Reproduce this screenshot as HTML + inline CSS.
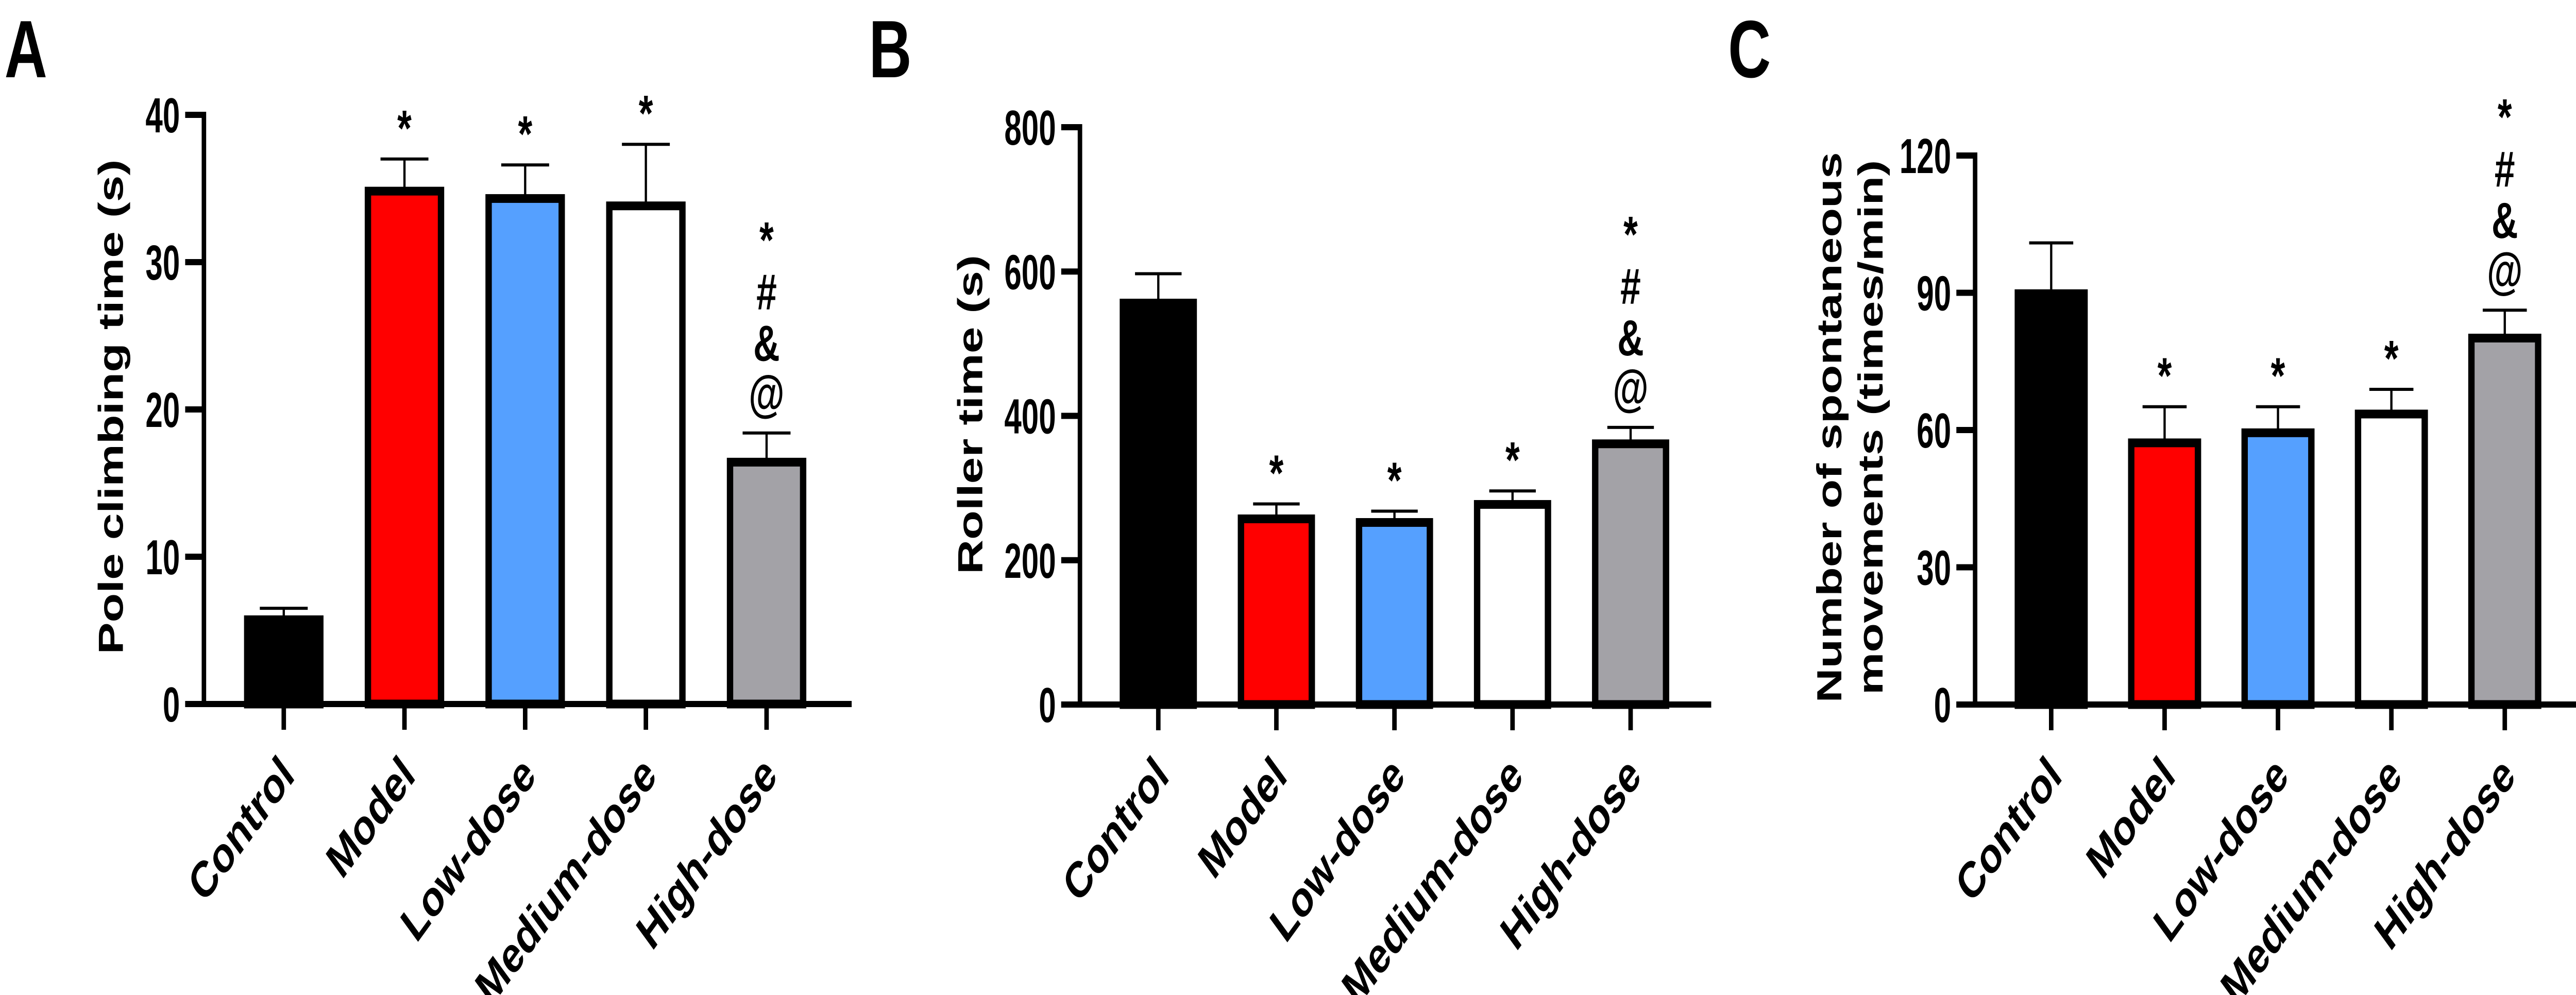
<!DOCTYPE html>
<html><head><meta charset="utf-8">
<style>
html,body{margin:0;padding:0;background:#fff;overflow:hidden;width:100%;height:100%;}
svg{display:block;width:100vw;height:100vh;}
.tick{font-family:"Liberation Sans",sans-serif;font-weight:bold;font-size:96px;}
.lab{font-family:"Liberation Sans",sans-serif;font-weight:bold;font-size:98px;}
.ttl{font-family:"Liberation Sans",sans-serif;font-weight:bold;font-size:93px;}
.ann{font-family:"Liberation Sans",sans-serif;font-weight:bold;font-size:98px;}
.pl{font-family:"Liberation Sans",sans-serif;font-weight:bold;font-size:158px;}
</style></head>
<body>
<svg id="fig" width="6872" height="1932" viewBox="0 0 6872 1932" preserveAspectRatio="none" xmlns="http://www.w3.org/2000/svg"></svg>
<script>
const categories = ["Control","Model","Low-dose","Medium-dose","High-dose"];
const colors = ["#000000","#ff0000","#55a0ff","#ffffff","#a3a2a7"];
const valuesA = [6.0, 35.1, 34.6, 34.1, 16.7];
const errorsA = [0.5, 1.9, 2.0, 3.9, 1.7];
const ticksA = [0,10,20,30,40];
const annA = [[],["*"],["*"],["*"],["@","&","#","*"]];
const valuesB = [562, 263, 258, 283, 367];
const errorsB = [35, 15, 10, 13, 17];
const ticksB = [0,200,400,600,800];
const annB = [[],["*"],["*"],["*"],["@","&","#","*"]];
const valuesC = [90.7, 58.1, 60.3, 64.4, 81.0];
const errorsC = [10.2, 7.0, 4.8, 4.5, 5.2];
const ticksC = [0,30,60,90,120];
const annC = [[],["*"],["*"],["*"],["@","&","#","*"]];

const NS="http://www.w3.org/2000/svg";
const svg=document.getElementById('fig');
function mk(tag,attrs,parent){const e=document.createElementNS(NS,tag);for(const k in attrs)e.setAttribute(k,attrs[k]);(parent||svg).appendChild(e);return e;}

function drawPanel(p){
  const g=mk('g',{});
  
  
  const ymax=p.ticks[p.ticks.length-1];
  const yScale=v=>p.y0-(p.y0-p.yTop)*v/ymax;
  const xScale=i=>p.x0c+i*p.step;
  const L=mk('text',{x:p.letterX,y:150,class:'pl'},g);L.textContent=p.letter;
  
  
  p.values.forEach((v,i)=>{
    const cx=xScale(i),half=p.bw/2-9;
    const top=yScale(v);
    const eTop=yScale(v+p.errors[i]);
    const el=mk('line',{x1:cx,x2:cx,y1:top,y2:eTop,stroke:'#000','stroke-width':6},g);
    
    
    const ec=mk('line',{x1:cx-p.bw*0.3,x2:cx+p.bw*0.3,y1:eTop,y2:eTop,stroke:'#000','stroke-width':6},g);
    
    
    const r=mk('rect',{x:cx-half,y:top+8,width:half*2,height:p.y0-top-8,fill:colors[i],stroke:'#000','stroke-width':17},g);
    
    
    const offs=p.ann[i].length>1?[75,175,275,395]:[80];
    p.ann[i].forEach((s,k)=>{
      const c=eTop-offs[k];
      const base=s==='*'?c+54:(s==='@'?c+32:c+35);
      const t=mk('text',{x:cx,y:base,'text-anchor':'middle',class:'ann'},g);t.textContent=s;
      
      
    });
    const xt=mk('line',{x1:cx,x2:cx,y1:p.y0,y2:p.y0+50,stroke:'#000','stroke-width':12},g);
    
    
    const xl=mk('text',{transform:`translate(${cx+33},${p.y0+143}) rotate(-45)`,'text-anchor':'end',class:'lab'},g);
    xl.textContent=categories[i];
    
    
  });
  const ya=mk('line',{x1:p.ax,x2:p.ax,y1:p.yTop-6,y2:p.y0+6,stroke:'#000','stroke-width':12},g);
  
  
  const xa=mk('line',{x1:p.ax-50,x2:p.xEnd,y1:p.y0,y2:p.y0,stroke:'#000','stroke-width':12},g);
  
  
  p.ticks.forEach(t=>{
    const y=yScale(t);
    const tl=mk('line',{x1:p.ax-50,x2:p.ax,y1:y,y2:y,stroke:'#000','stroke-width':12},g);
    
    
    const tt=mk('text',{transform:`translate(${p.ax-64},${y+34}) scale(0.86,1)`,'text-anchor':'end',class:'tick'},g);tt.textContent=t;
    
    
  });
  p.title.forEach((line,k)=>{
    const tx=p.titleX[k];
    const tt=mk('text',{transform:`translate(${tx},${p.titleY}) rotate(-90)`,'text-anchor':'middle',class:'ttl'},g);
    tt.textContent=line;
    
    
  });
}
drawPanel({name:'panel-a',letter:'A',letterX:12,ax:544,y0:1367,yTop:223,x0c:757,step:322,bw:213,xEnd:2272,
  values:valuesA,errors:errorsA,ticks:ticksA,ann:annA,title:['Pole climbing time (s)'],titleX:[328],titleY:790});
drawPanel({name:'panel-b',letter:'B',letterX:2318,ax:2881,y0:1368,yTop:247,x0c:3090,step:315,bw:207,xEnd:4565,
  values:valuesB,errors:errorsB,ticks:ticksB,ann:annB,title:['Roller time (s)'],titleX:[2620],titleY:805});
drawPanel({name:'panel-c',letter:'C',letterX:4610,ax:5269,y0:1368,yTop:302,x0c:5472,step:302.5,bw:196,xEnd:6872,
  values:valuesC,errors:errorsC,ticks:ticksC,ann:annC,title:['Number of spontaneous','movements (times/min)'],titleX:[4912,5022],titleY:830});
</script>
</body></html>
